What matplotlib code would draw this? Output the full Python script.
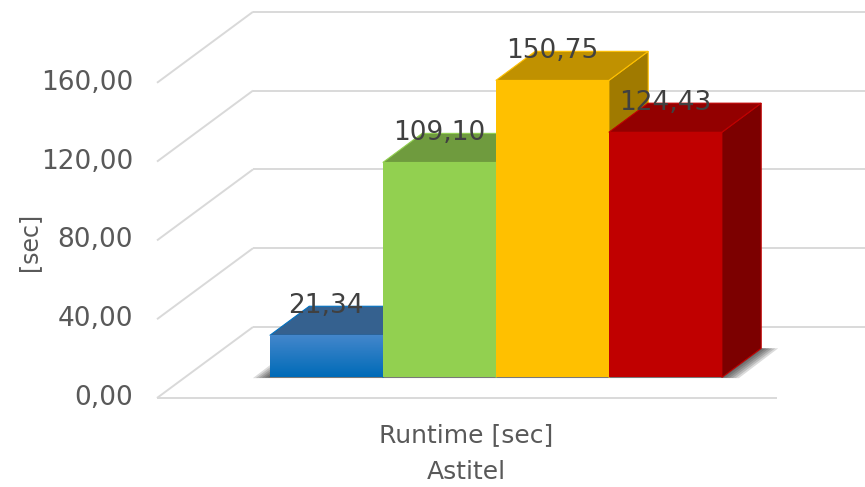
import numpy as np
import matplotlib.pyplot as plt
from matplotlib.patches import Polygon

# Runtime per configuration (one category, four series)
runtimes = [21.34, 109.10, 150.75, 124.43]
labels = [f"{v:.2f}".replace(".", ",") for v in runtimes]
category = "Runtime [sec]"
axis_title = "Astitel"
y_label = "[sec]"
y_ticks = [0, 40, 80, 120, 160]
tick_labels = ["0,00", "40,00", "80,00", "120,00", "160,00"]

front_colors = ["#0070c0", "#92d050", "#ffc000", "#c00000"]
top_colors = ["#35618f", "#6f9b3e", "#c09100", "#930000"]
side_colors = ["#24476b", "#55782e", "#a07a00", "#7c0000"]

# oblique projection: pixels per value unit, full floor depth in px
PX = 1.97
DEPTH_X, DEPTH_Y = 96.0, 71.0


def shift(d):
    return DEPTH_X * d, DEPTH_Y * d / PX


fig = plt.figure(figsize=(8.65, 4.87), dpi=100)
ax = fig.add_axes([0, 0, 1, 1])
ax.axis("off")

grid_kw = dict(color="#d9d9d9", lw=1.4, solid_capstyle="butt", zorder=1)
x_wall = 157
bx, by = shift(1.0)
for t in y_ticks:
    ax.plot([x_wall + bx, 865], [t + by, t + by], **grid_kw)
    ax.plot([x_wall, x_wall + bx], [t, t + by], **grid_kw)
ax.plot([x_wall, 777], [0, 0], **grid_kw)

for t, lab in zip(y_ticks, tick_labels):
    ax.text(133, t, lab, ha="right", va="center", fontsize=19, color="#595959")
ax.text(29, 79, y_label, rotation=90, ha="center", va="center", fontsize=17, color="#595959")

# bars sit between depth 0.29 and 0.70 of the floor
ox, oy = shift(0.29)
dx, dy = shift(0.41)
width = 113
lefts = 242 + ox + width * np.arange(len(runtimes))

# soft shadow around the footprint of the bar block
l0, l1 = lefts[0], lefts[-1] + width
for e in [17, 14, 11, 8, 5, 2]:
    down = 0.25 * e / 17 * 3 / PX
    foot = [(l0 - e, oy - down), (l1 + e, oy - down),
            (l1 + dx + e, oy + dy), (l0 + dx - e, oy + dy)]
    ax.add_patch(Polygon(foot, closed=True, facecolor="#000000", alpha=0.14,
                         edgecolor="none", zorder=2))

bars = ax.bar(lefts, runtimes, width=width, bottom=oy, align="edge",
              color=front_colors, linewidth=0, zorder=10)

for i, (bar, v) in enumerate(zip(bars, runtimes)):
    z = 10 + 3 * i
    l = lefts[i]
    top = oy + v
    side = Polygon([(l + width, oy), (l + width + dx, oy + dy),
                    (l + width + dx, top + dy), (l + width, top)],
                   closed=True, facecolor=side_colors[i], edgecolor=front_colors[i],
                   lw=0.8, zorder=z)
    lid = Polygon([(l, top), (l + width, top), (l + width + dx, top + dy), (l + dx, top + dy)],
                  closed=True, facecolor=top_colors[i], edgecolor=front_colors[i],
                  lw=0.8, zorder=z + 1)
    ax.add_patch(side)
    ax.add_patch(lid)
    bar.set_zorder(z + 2)
    ax.text(l + width / 2, top + dy, labels[i], ha="center", va="center",
            fontsize=19, color="#404040", zorder=40)

# blue front face has a vertical gradient
grad = np.linspace(0, 1, 64).reshape(-1, 1)
blue_top = np.array([0.27, 0.53, 0.80])
blue_bot = np.array([0.0, 0.42, 0.72])
img = blue_bot + (blue_top - blue_bot) * grad[..., None]
im = ax.imshow(img, extent=[lefts[0], lefts[0] + width, oy, oy + runtimes[0]],
               origin="lower", aspect="auto", zorder=bars[0].get_zorder() + 0.5)
im.set_clip_path(bars[0])

ax.text(466, -19, category, ha="center", va="center", fontsize=18, color="#595959")
ax.text(466, -37.5, axis_title, ha="center", va="center", fontsize=18, color="#595959")

ax.set_xlim(0, 865)
ax.set_ylim(-89 / PX, 398 / PX)

fig.savefig("out.png", dpi=100)
